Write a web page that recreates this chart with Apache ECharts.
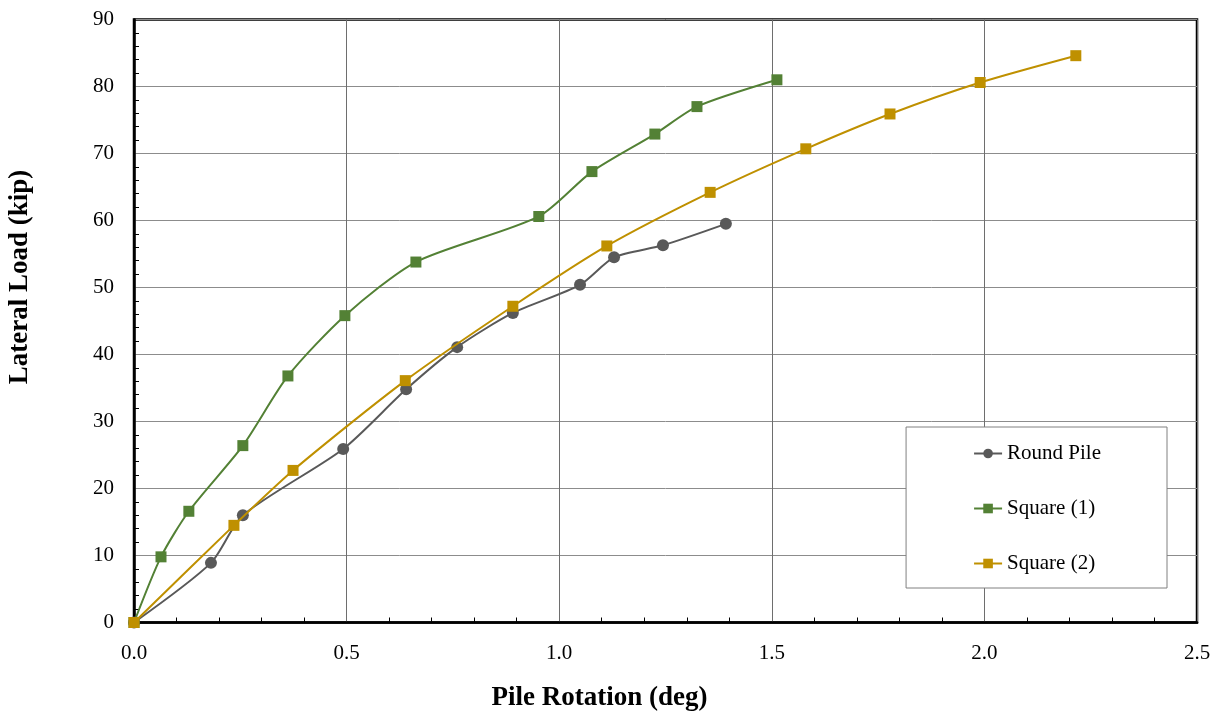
<!DOCTYPE html>
<html>
<head>
<meta charset="utf-8">
<script src="https://cdn.jsdelivr.net/npm/echarts@6/dist/echarts.min.js"></script>
<style>html,body{margin:0;padding:0;background:#fff}#c{width:1220px;height:713px}</style>
</head>
<body>
<div id="c"></div>
<script>
const roundX = [0, 0.181, 0.256, 0.492, 0.640, 0.760, 0.891, 1.049, 1.129, 1.244, 1.392];
const roundY = [0, 8.9, 16.0, 25.9, 34.8, 41.1, 46.2, 50.4, 54.5, 56.3, 59.5];
const sq1X = [0, 0.0635, 0.129, 0.256, 0.362, 0.496, 0.663, 0.952, 1.077, 1.225, 1.324, 1.512];
const sq1Y = [0, 9.8, 16.6, 26.4, 36.8, 45.8, 53.8, 60.6, 67.3, 72.9, 77.0, 81.0];
const sq2X = [0, 0.235, 0.374, 0.638, 0.891, 1.112, 1.355, 1.580, 1.778, 1.990, 2.215];
const sq2Y = [0, 14.5, 22.7, 36.1, 47.2, 56.2, 64.2, 70.7, 75.9, 80.6, 84.6];
const xTicks = ['0.0', '0.5', '1.0', '1.5', '2.0', '2.5'];
const seriesNames = ['Round Pile', 'Square (1)', 'Square (2)'];

const zip = (a, b) => a.map((v, i) => [v, b[i]]);
const font = '"Liberation Serif", "Times New Roman", serif';

const chart = echarts.init(document.getElementById('c'), null, {renderer: 'canvas'});
chart.setOption({
  animation: false,
  backgroundColor: '#fff',
  grid: {left: 134, right: 23, top: 19.5, bottom: 90.5, containLabel: false, outerBoundsMode: 'none',
         show: true, borderColor: '#000', borderWidth: 2.5, backgroundColor: 'transparent'},
  legend: {
    orient: 'vertical',
    right: 53, top: 427,
    padding: [16, 66, 14, 67],
    itemGap: 34,
    itemWidth: 28, itemHeight: 12,
    backgroundColor: '#fff',
    borderColor: '#808080', borderWidth: 1,
    textStyle: {fontFamily: font, fontSize: 21, color: '#000', lineHeight: 20},
    data: seriesNames
  },
  xAxis: {
    type: 'value', min: 0, max: 2.5, interval: 0.5,
    name: 'Pile Rotation (deg)', nameLocation: 'middle', nameGap: 62,
    nameTextStyle: {fontFamily: font, fontSize: 27, fontWeight: 'bold', color: '#000', padding: [0, 132, 0, 0]},
    axisLine: {show: true, lineStyle: {color: '#000', width: 2.5}},
    axisTick: {show: false, inside: true},
    minorTick: {show: true, splitNumber: 5, length: 5, lineStyle: {color: '#000', width: 1}},
    axisLabel: {fontFamily: font, fontSize: 21, color: '#000', margin: 20, formatter: (v) => xTicks[Math.round(v / 0.5)]},
    splitLine: {show: true, lineStyle: {color: '#6e6e6e', width: 1}}
  },
  yAxis: {
    type: 'value', min: 0, max: 90, interval: 10,
    name: 'Lateral Load (kip)', nameLocation: 'middle', nameGap: 100,
    nameTextStyle: {fontFamily: font, fontSize: 27, fontWeight: 'bold', color: '#000', padding: [0, 0, 0, 88]},
    axisLine: {show: true, lineStyle: {color: '#000', width: 2.5}},
    axisTick: {show: false, inside: true},
    minorTick: {show: true, splitNumber: 5, length: 5, lineStyle: {color: '#000', width: 1}},
    axisLabel: {fontFamily: font, fontSize: 21, color: '#000', margin: 20},
    splitLine: {show: true, lineStyle: {color: '#8c8c8c', width: 1}}
  },
  series: [
    {name: seriesNames[0], type: 'line', data: zip(roundX, roundY), smooth: 0.25,
     symbol: 'circle', symbolSize: 12, color: '#595959',
     lineStyle: {width: 2, color: '#595959'}, itemStyle: {color: '#595959'}, z: 3},
    {name: seriesNames[1], type: 'line', data: zip(sq1X, sq1Y), smooth: 0.25,
     symbol: 'rect', symbolSize: 11, color: '#538135',
     lineStyle: {width: 2, color: '#538135'}, itemStyle: {color: '#538135'}, z: 4},
    {name: seriesNames[2], type: 'line', data: zip(sq2X, sq2Y), smooth: 0.25,
     symbol: 'rect', symbolSize: 11, color: '#BF9000',
     lineStyle: {width: 2, color: '#BF9000'}, itemStyle: {color: '#BF9000'}, z: 5}
  ]
});
</script>
</body>
</html>
